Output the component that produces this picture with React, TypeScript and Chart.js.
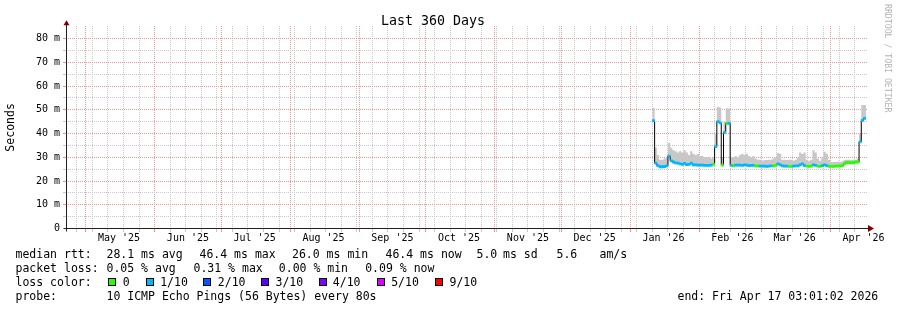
import React, { useEffect, useRef } from 'react';
import { Chart, registerables } from 'chart.js';

Chart.register(...registerables);

// x values are days counted from 2025-04-22 00:00
const GRAPH_START_DAY = 0.1257; // 2025-04-22 03:01:02
const GRAPH_END_DAY = 360.1257; // 2026-04-17 03:01:02
const FIRST_SAMPLE_DAY = 264; // 2026-01-11

const MEDIAN_RTT_MS = [
  45.4, 27.5, 26.5, 26.0, 26.0, 26.1, 26.4, 30.5, 28.5, 28.0,
  27.6, 27.5, 27.2, 27.0, 27.4, 26.9, 27.0, 27.5, 26.8, 26.8,
  26.7, 26.7, 26.7, 26.6, 26.6, 26.6, 26.7, 27.0, 34.5, 45.0,
  44.5, 26.7, 40.5, 44.3, 44.3, 26.6, 26.5, 26.7, 26.7, 26.7,
  26.6, 26.8, 26.7, 26.5, 26.6, 26.6, 26.4, 26.4, 26.3, 26.3,
  26.3, 26.2, 26.3, 26.4, 26.4, 26.6, 27.2, 26.8, 26.4, 26.3,
  26.3, 26.2, 26.2, 26.3, 26.4, 26.4, 26.8, 27.2, 26.5, 26.3,
  26.2, 26.3, 26.8, 26.6, 26.3, 26.2, 26.5, 26.8, 26.5, 26.2,
  26.2, 26.2, 26.3, 26.3, 26.4, 26.5, 27.3, 27.8, 27.8, 27.6,
  27.8, 28.0, 28.0, 36.5, 45.5, 46.4,
];

const SMOKE_MAX_MS = [
  50.7, 34.0, 31.0, 29.0, 29.0, 29.5, 30.0, 36.0, 34.0, 33.0,
  32.5, 32.0, 32.5, 32.0, 33.0, 32.0, 31.0, 32.5, 31.5, 31.0,
  31.5, 30.5, 30.5, 30.0, 30.0, 30.0, 29.5, 30.0, 40.0, 51.3,
  51.0, 30.0, 45.0, 50.6, 50.5, 30.0, 30.0, 30.5, 30.0, 31.0,
  31.5, 31.0, 31.5, 30.5, 30.0, 30.5, 29.5, 29.0, 29.0, 28.5,
  28.8, 28.8, 29.0, 29.0, 29.5, 30.0, 31.8, 31.5, 29.0, 29.0,
  28.8, 29.0, 29.0, 28.5, 29.0, 30.0, 32.0, 31.5, 32.0, 29.0,
  28.5, 29.0, 33.0, 32.0, 29.5, 28.5, 30.0, 32.3, 31.5, 29.0,
  28.0, 28.0, 28.0, 28.2, 28.0, 28.3, 28.8, 29.0, 29.0, 28.8,
  29.0, 29.0, 29.5, 40.0, 52.0, 52.0,
];

const LOSS_TENTHS = [
  1, 1, 1, 1, 1, 1, 1, 1, 1, 1,
  1, 1, 1, 1, 1, 1, 1, 1, 1, 1,
  1, 1, 1, 1, 1, 1, 1, 0, 1, 1,
  1, 0, 1, 0, 1, 1, 0, 1, 1, 1,
  1, 1, 1, 1, 1, 1, 0, 0, 1, 1,
  1, 1, 1, 1, 0, 0, 1, 1, 1, 1,
  1, 0, 0, 1, 1, 1, 1, 1, 1, 0,
  0, 0, 1, 1, 0, 0, 1, 1, 1, 0,
  0, 0, 0, 0, 0, 0, 0, 0, 0, 0,
  0, 0, 0, 1, 1, 1,
];

const MONTH_START_DAYS = [9, 40, 70, 101, 132, 162, 193, 223, 254, 285, 313, 344];
const MONTH_LABEL_DAYS = [24, 55, 85, 116, 147, 177, 208, 238, 269, 300, 328, 359];
const MONTH_LABELS = ["May '25", "Jun '25", "Jul '25", "Aug '25", "Sep '25", "Oct '25", "Nov '25", "Dec '25", "Jan '26", "Feb '26", "Mar '26", "Apr '26"];
const FIRST_SUNDAY_DAY = 5;
const Y_GRID_MS = [0, 5, 10, 15, 20, 25, 30, 35, 40, 45, 50, 55, 60, 65, 70, 75, 80];

const LOSS_LEVELS = [0, 1, 2, 3, 4, 5, 9];
const LOSS_LABELS = ['0', '1/10', '2/10', '3/10', '4/10', '5/10', '9/10'];
const LOSS_COLORS: Record<number, string> = {
  0: '#26ff00', 1: '#00b8ff', 2: '#0059ff', 3: '#5e00ff', 4: '#7e00ff', 5: '#dd00ff', 9: '#ff0000',
};

const MONO = "'DejaVu Sans Mono', monospace";
const GRID_MINOR = 'rgb(200,200,200)';
const GRID_MAJOR = 'rgb(240,150,150)';
const CLEAR = 'rgba(0,0,0,0)';
const AXIS = '#202020';
const ARROW = '#800000';
const SMOKE = '#c8c8c8';

function buildXTicks() {
  const out: any[] = [];
  for (let d = FIRST_SUNDAY_DAY; d <= GRAPH_END_DAY; d += 7) {
    if (!MONTH_START_DAYS.includes(d)) out.push({ value: d, kind: 'week' });
  }
  MONTH_START_DAYS.forEach((d) => out.push({ value: d, kind: 'month' }));
  MONTH_LABEL_DAYS.forEach((d, i) => out.push({ value: d, kind: 'label', text: MONTH_LABELS[i] }));
  out.sort((a, b) => a.value - b.value || (a.kind === 'label' ? 1 : -1));
  return out;
}

const X_TICKS = buildXTicks();

// dotted 1-on/1-off grid drawn through the library's scales, pixel by pixel
const dottedGrid = {
  id: 'dottedGrid',
  beforeDatasetsDraw(chart: any) {
    const { ctx, chartArea, scales } = chart;
    const { left, top, right, bottom } = chartArea;
    const l = Math.round(left), t = Math.round(top), r = Math.round(right), b = Math.round(bottom - 0.5);
    ctx.save();
    const vline = (px: number, color: string) => {
      ctx.fillStyle = color;
      for (let y = b - 2; y >= t; y -= 2) ctx.fillRect(px, y, 1, 1);
      ctx.fillRect(px, b + 1, 1, 3);
    };
    const hline = (py: number, color: string) => {
      ctx.fillStyle = color;
      for (let x = l + 2; x <= r; x += 2) ctx.fillRect(x, py, 1, 1);
      ctx.fillRect(l - 3, py, 3, 1);
    };
    X_TICKS.forEach((tk) => {
      if (tk.kind === 'label') return;
      const px = Math.round(scales.x.getPixelForValue(tk.value) - 0.5);
      vline(px, tk.kind === 'month' ? GRID_MAJOR : GRID_MINOR);
    });
    Y_GRID_MS.forEach((v) => {
      if (v === 0) return;
      const py = Math.round(scales.y.getPixelForValue(v) - 0.5);
      hline(py, v % 10 === 0 ? GRID_MAJOR : GRID_MINOR);
    });
    ctx.restore();
  },
};

const axisArrows = {
  id: 'axisArrows',
  afterDraw(chart: any) {
    const { ctx, chartArea } = chart;
    const { left, top, right, bottom } = chartArea;
    const ax = Math.round(left - 0.5) + 0.5;
    const by = Math.round(bottom - 0.5) + 0.5;
    ctx.save();
    ctx.strokeStyle = AXIS;
    ctx.lineWidth = 1;
    ctx.beginPath();
    ctx.moveTo(ax, top - 2);
    ctx.lineTo(ax, by + 3);
    ctx.moveTo(ax - 3, by);
    ctx.lineTo(right + 3, by);
    ctx.stroke();
    ctx.fillStyle = ARROW;
    ctx.beginPath();
    ctx.moveTo(ax - 3, top - 1);
    ctx.lineTo(ax + 3, top - 1);
    ctx.lineTo(ax, top - 6);
    ctx.closePath();
    ctx.fill();
    ctx.beginPath();
    ctx.moveTo(right + 2, by - 3.5);
    ctx.lineTo(right + 2, by + 3.5);
    ctx.lineTo(right + 8, by);
    ctx.closePath();
    ctx.fill();
    ctx.restore();
  },
};

const legendText: React.CSSProperties = {
  position: 'absolute',
  fontFamily: MONO,
  fontSize: '11.5px',
  lineHeight: '14px',
  whiteSpace: 'pre',
  color: '#000',
};

const LINE_TOPS = [247, 261, 275, 289];
const LINE1: [number, string][] = [
  [16, 'median rtt:'], [107, '28.1 ms avg'], [200, '46.4 ms max'], [292.5, '26.0 ms min'],
  [386, '46.4 ms now'], [477, '5.0'], [503.5, 'ms sd'], [557, '5.6'], [600, 'am/s'],
];
const LINE2: [number, string][] = [
  [16, 'packet loss:'], [107, '0.05 % avg'], [194, '0.31 % max'], [279.3, '0.00 % min'], [365.7, '0.09 % now'],
];
const LINE4: [number, string][] = [
  [16, 'probe:'], [107, '10 ICMP Echo Pings (56 Bytes) every 80s'], [678, 'end: Fri Apr 17 03:01:02 2026'],
];
const BOX_LEFTS = [108, 145.7, 203.3, 261, 319, 376.7, 435];
const BOX_LABEL_LEFTS = [123.3, 160.7, 218.3, 276, 333.3, 391.7, 450];

export default function App() {
  const ref = useRef<HTMLCanvasElement>(null);

  useEffect(() => {
    const canvas = ref.current;
    if (!canvas) return;
    const last = MEDIAN_RTT_MS.length - 1;
    const medianPts = MEDIAN_RTT_MS.map((v, i) => ({ x: FIRST_SAMPLE_DAY + i, y: v }));
    medianPts.push({ x: GRAPH_END_DAY, y: MEDIAN_RTT_MS[last] });
    const smokePts = SMOKE_MAX_MS.map((v, i) => ({ x: FIRST_SAMPLE_DAY + i, y: v }));
    smokePts.push({ x: GRAPH_END_DAY, y: SMOKE_MAX_MS[last] });
    const lossBars = MEDIAN_RTT_MS.map((v, i) => ({ x: FIRST_SAMPLE_DAY + i + 0.5, y: [v - 0.45, v + 0.45] }));
    const barColors = LOSS_TENTHS.map((l) => LOSS_COLORS[l]);

    const chart = new Chart(canvas, {
      type: 'line',
      data: {
        datasets: [
          {
            label: 'smoke', data: smokePts as any, stepped: true, borderWidth: 0,
            borderColor: CLEAR, backgroundColor: SMOKE, fill: '+1', pointRadius: 0, order: 3,
          },
          {
            label: 'median', data: medianPts as any, stepped: true, borderWidth: 1,
            borderColor: '#000', fill: false, pointRadius: 0, order: 2,
          },
          {
            type: 'bar', label: 'loss', data: lossBars as any, backgroundColor: barColors,
            borderWidth: 0, barPercentage: 1, categoryPercentage: 1, grouped: false, order: 1,
          } as any,
        ],
      },
      options: {
        animation: false,
        responsive: false,
        devicePixelRatio: 1,
        events: [],
        layout: { padding: { left: 0, right: 31, top: 0, bottom: 61.5 } },
        plugins: {
          legend: { display: false },
          tooltip: { enabled: false },
          title: {
            display: true, text: 'Last 360 Days', color: '#000',
            font: { family: MONO, size: 13.3, lineHeight: 1, weight: 'normal' },
            padding: { top: 14.8, bottom: -1.8 },
          },
        },
        scales: {
          x: {
            type: 'linear', min: GRAPH_START_DAY, max: GRAPH_END_DAY, offset: false,
            afterBuildTicks: (s: any) => { s.ticks = X_TICKS.map((t) => ({ ...t })); },
            afterFit: (s: any) => { s.height = 20; },
            ticks: {
              autoSkip: false, maxRotation: 0, minRotation: 0, padding: 4, color: '#000',
              font: { family: MONO, size: 10 },
              callback: (_v: any, i: number) => X_TICKS[i].text || '',
            },
            grid: { display: false, drawTicks: false, tickLength: 0 },
            border: { display: false },
          } as any,
          y: {
            type: 'linear', min: 0, max: 85.14,
            afterBuildTicks: (s: any) => { s.ticks = Y_GRID_MS.map((v) => ({ value: v })); },
            afterFit: (s: any) => { s.width = 66; },
            ticks: {
              autoSkip: false, padding: 6, color: '#000', font: { family: MONO, size: 10 },
              callback: (_v: any, i: number) => {
                const v = Y_GRID_MS[i];
                if (v % 10 !== 0) return '';
                return v === 0 ? '0' : `${v} m`;
              },
            },
            grid: { display: false, drawTicks: false, tickLength: 0 },
            border: { display: false },
            title: {
              display: true, text: 'Seconds', color: '#000',
              font: { family: MONO, size: 11.5 }, padding: { top: 4, bottom: 0 },
            },
          } as any,
        },
      },
      plugins: [dottedGrid, axisArrows],
    });
    return () => chart.destroy();
  }, []);

  return (
    <div style={{ position: 'fixed', left: 0, top: 0, width: 897, height: 310, background: '#fff', overflow: 'hidden' }}>
      <canvas ref={ref} width={897} height={310} style={{ position: 'absolute', left: 0, top: 0, width: 897, height: 310 }} />
      {LINE1.map(([x, s], i) => (<div key={'a' + i} style={{ ...legendText, left: x - 0.5, top: LINE_TOPS[0] }}>{s}</div>))}
      {LINE2.map(([x, s], i) => (<div key={'b' + i} style={{ ...legendText, left: x - 0.5, top: LINE_TOPS[1] }}>{s}</div>))}
      <div style={{ ...legendText, left: 15.5, top: LINE_TOPS[2] }}>loss color:</div>
      {LOSS_LEVELS.map((lvl, i) => (
        <React.Fragment key={'c' + i}>
          <div style={{ position: 'absolute', left: BOX_LEFTS[i], top: 278, width: 6, height: 6, border: '1px solid #000', background: LOSS_COLORS[lvl] }} />
          <div style={{ ...legendText, left: BOX_LABEL_LEFTS[i] - 0.5, top: LINE_TOPS[2] }}>{LOSS_LABELS[i]}</div>
        </React.Fragment>
      ))}
      {LINE4.map(([x, s], i) => (<div key={'d' + i} style={{ ...legendText, left: x - 0.5, top: LINE_TOPS[3] }}>{s}</div>))}
      <div style={{ position: 'absolute', left: 883, top: 4, width: 10, fontFamily: MONO, fontSize: '8.2px', lineHeight: '10px', writingMode: 'vertical-rl', whiteSpace: 'pre', color: '#b4b4b4' }}>RRDTOOL / TOBI OETIKER</div>
    </div>
  );
}
